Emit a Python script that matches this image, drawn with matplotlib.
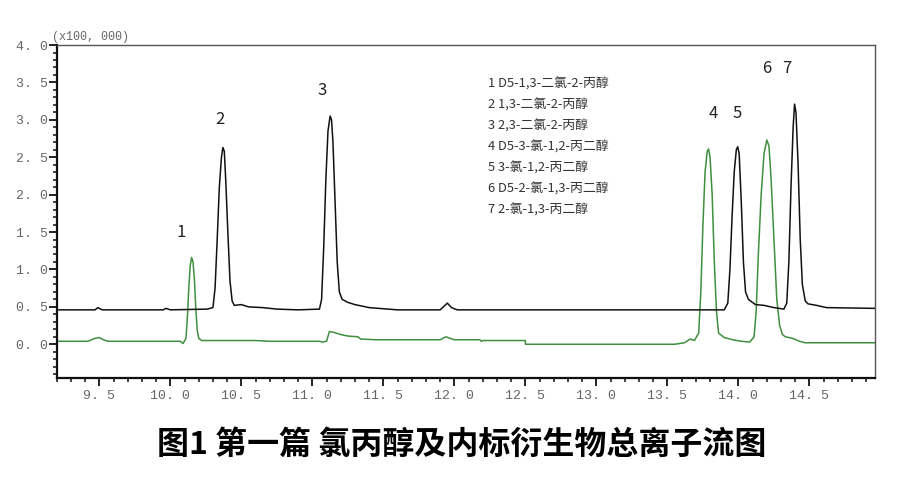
import matplotlib
matplotlib.use("Agg")
import matplotlib.pyplot as plt
from matplotlib.ticker import MultipleLocator, FuncFormatter

plt.rcParams['font.family'] = ['Noto Sans CJK SC', 'DejaVu Sans']

# 数字化的色谱图（保留时间 min, 强度 x100,000）
green_t = [9.2, 9.42, 9.47, 9.50, 9.53, 9.56, 10.0, 10.07, 10.09, 10.11, 10.12, 10.13,
           10.14, 10.15, 10.16, 10.17, 10.18, 10.19, 10.20, 10.22, 10.60, 10.70, 11.05,
           11.07, 11.10, 11.12, 11.15, 11.20, 11.25, 11.32, 11.34, 11.45, 11.90, 11.94,
           11.97, 12.0, 12.18, 12.19, 12.2, 12.5, 12.5, 13.55, 13.62, 13.66, 13.69, 13.72,
           13.735, 13.75, 13.765, 13.78, 13.79, 13.80, 13.815, 13.83, 13.845, 13.86, 13.90,
           13.96, 14.02, 14.08, 14.11, 14.125, 14.14, 14.16, 14.18, 14.20, 14.215, 14.23,
           14.25, 14.27, 14.29, 14.31, 14.33, 14.38, 14.43, 14.47, 14.96]
green_i = [0.04, 0.04, 0.08, 0.09, 0.06, 0.04, 0.04, 0.04, 0.01, 0.08, 0.35, 0.75,
           1.05, 1.16, 1.1, 0.85, 0.45, 0.18, 0.08, 0.05, 0.05, 0.04, 0.04,
           0.03, 0.04, 0.17, 0.16, 0.13, 0.11, 0.10, 0.07, 0.06, 0.06, 0.10,
           0.08, 0.06, 0.06, 0.04, 0.05, 0.05, 0.0, 0.0, 0.02, 0.07, 0.05, 0.15,
           0.7, 1.6, 2.3, 2.58, 2.61, 2.5, 2.0, 1.1, 0.45, 0.15, 0.09,
           0.06, 0.04, 0.03, 0.1, 0.45, 1.2, 2.0, 2.55, 2.73, 2.65, 2.2,
           1.4, 0.6, 0.25, 0.13, 0.1, 0.08, 0.04, 0.02, 0.02]

black_t = [9.2, 9.47, 9.49, 9.52, 9.95, 9.97, 10.0, 10.26, 10.30, 10.315, 10.33, 10.345,
           10.36, 10.37, 10.38, 10.39, 10.405, 10.42, 10.435, 10.45, 10.50, 10.55, 10.65,
           10.75, 10.90, 11.05, 11.065, 11.08, 11.095, 11.11, 11.125, 11.135, 11.145, 11.16,
           11.175, 11.19, 11.21, 11.25, 11.30, 11.40, 11.60, 11.90, 11.95, 11.98, 12.02,
           13.90, 13.925, 13.94, 13.955, 13.97, 13.985, 13.995, 14.005, 14.02, 14.035, 14.05,
           14.07, 14.12, 14.18, 14.25, 14.32, 14.34, 14.355, 14.37, 14.385, 14.395, 14.405,
           14.42, 14.435, 14.45, 14.47, 14.49, 14.55, 14.62, 14.96]
black_i = [0.46, 0.46, 0.49, 0.46, 0.46, 0.48, 0.46, 0.47, 0.49, 0.75, 1.4, 2.1,
           2.5, 2.63, 2.58, 2.2, 1.5, 0.85, 0.58, 0.52, 0.53, 0.50, 0.49,
           0.47, 0.46, 0.47, 0.6, 1.3, 2.2, 2.85, 3.05, 3.0, 2.7, 1.9,
           1.1, 0.7, 0.6, 0.56, 0.53, 0.49, 0.46, 0.46, 0.55, 0.49, 0.46,
           0.46, 0.55, 1.0, 1.7, 2.3, 2.6, 2.64, 2.55, 1.9, 1.1, 0.7,
           0.6, 0.53, 0.52, 0.49, 0.47, 0.55, 1.1, 2.1, 2.9, 3.21, 3.1,
           2.4, 1.4, 0.8, 0.58, 0.54, 0.52, 0.49, 0.48]

peak_labels = ['1', '2', '3', '4', '5', '6', '7']
peak_x = [10.08, 10.35, 11.07, 13.82, 13.99, 14.20, 14.34]
peak_y = [1.49, 3.01, 3.39, 3.09, 3.09, 3.69, 3.69]

compounds = ['1 D5-1,3-二氯-2-丙醇', '2 1,3-二氯-2-丙醇', '3 2,3-二氯-2-丙醇',
             '4 D5-3-氯-1,2-丙二醇', '5 3-氯-1,2-丙二醇', '6 D5-2-氯-1,3-丙二醇',
             '7 2-氯-1,3-丙二醇']

fig = plt.figure(figsize=(9, 4.79), dpi=100)
ax = fig.add_axes([0.063, 0.211, 0.909, 0.695])

ax.plot(green_t, green_i, color='#3f8f3f', lw=1.1)
ax.plot(black_t, black_i, color='#111111', lw=1.1)

ax.set_xlim(9.2, 14.96)
ax.set_ylim(-0.45, 4.0)

fmt = FuncFormatter(lambda v, p: ('%.1f' % v).replace('.', '. '))
ax.xaxis.set_major_locator(MultipleLocator(0.5))
ax.xaxis.set_minor_locator(MultipleLocator(0.1))
ax.yaxis.set_major_locator(MultipleLocator(0.5))
ax.yaxis.set_minor_locator(MultipleLocator(0.1))
ax.xaxis.set_major_formatter(fmt)
ax.yaxis.set_major_formatter(fmt)
ax.tick_params(which='major', direction='out', length=6, width=1.3, color='#111',
               labelsize=9.5, labelcolor='#666')
ax.tick_params(which='minor', direction='out', length=3, width=1.1, color='#111')
ax.tick_params(axis='y', which='both', pad=0)
ax.tick_params(axis='x', which='both', pad=3)
for lab in ax.get_xticklabels() + ax.get_yticklabels():
    lab.set_family('Liberation Mono')

ax.spines['left'].set_linewidth(1.6)
ax.spines['bottom'].set_linewidth(1.6)
ax.spines['left'].set_color('#111')
ax.spines['bottom'].set_color('#111')
ax.spines['top'].set_color('#555')
ax.spines['right'].set_color('#555')
ax.spines['top'].set_linewidth(1.0)
ax.spines['right'].set_linewidth(1.0)

ax.text(-0.006, 1.005, '(x100, 000)', transform=ax.transAxes, fontsize=8.5,
        family='Liberation Mono', color='#666', va='bottom', ha='left')

for lab, x, y in zip(peak_labels, peak_x, peak_y):
    ax.text(x, y, lab, fontsize=12, color='#222', ha='center', va='center')

# 化合物列表
for k, c in enumerate(compounds):
    ax.text(0.527, 0.883 - k * 0.063, c, transform=ax.transAxes, fontsize=9.3,
            color='#333', va='center', ha='left')

fig.text(0.513, 0.072, '图1 第一篇 氯丙醇及内标衍生物总离子流图', fontsize=23,
         fontweight='black', ha='center', va='center', color='black')

fig.savefig('out.png', dpi=100)
